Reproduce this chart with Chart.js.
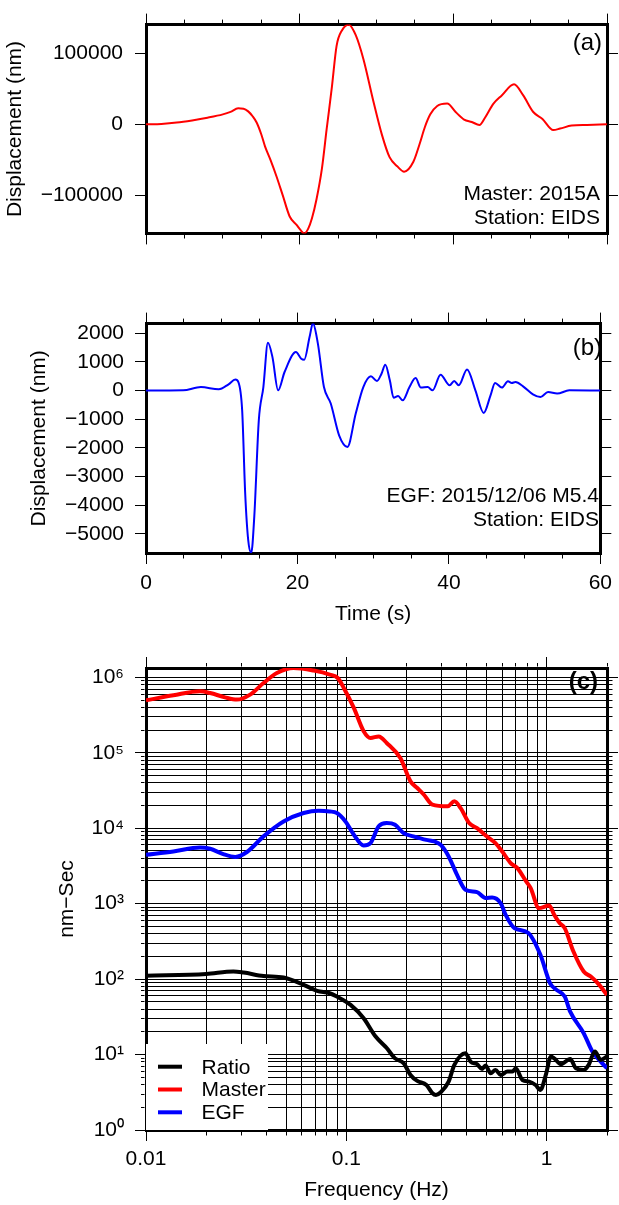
<!DOCTYPE html>
<html>
<head>
<meta charset="utf-8">
<script src="https://cdn.jsdelivr.net/npm/chart.js@4.4.0/dist/chart.umd.min.js"></script>
<style>
  body { margin:0; background:#fff; width:619px; height:1205px; position:relative; overflow:hidden; }
  canvas { position:absolute; left:0; }
</style>
</head>
<body>
<canvas id="chart_a" width="619" height="258" style="top:0px"></canvas>
<canvas id="chart_b" width="619" height="330" style="top:300px"></canvas>
<canvas id="chart_c" width="619" height="565" style="top:640px"></canvas>
<script>
// (a) master waveform, time (s) / displacement (nm)
let timeA = [0, 2, 4, 6, 8, 10, 11, 12, 12.7, 13.3, 13.9, 14.4, 15.0, 15.5, 16.2, 17.0, 17.8, 18.7, 19.6, 20.1,
  20.6, 21.1, 21.6, 22.2, 22.9, 23.5, 24.2, 24.8, 25.5, 26.4, 27.3, 28.3, 29.6, 30.7, 31.7, 32.7, 33.6, 34.8,
  35.6, 36.3, 37.0, 37.9, 39.2, 40.3, 41.4, 42.4, 43.4, 44.1, 45.2, 46.3, 47.9, 49.1, 50.4, 51.6, 53.0, 53.9,
  55.4, 57.4, 60];
let dispA = [0, 600, 2400, 5500, 9300, 14000, 17500, 22500, 22000, 18200, 11000, 2500, -14000, -31400, -50000,
  -73700, -100000, -129600, -141500, -148500, -153500, -147000, -132000, -105000, -62000, -8000, 53000, 110000,
  132000, 140000, 125300, 91500, 32100, -14500, -46200, -59000, -66600, -52600, -28000, -3800, 14000, 25800,
  29200, 17300, 6700, 3300, -900, 8900, 28700, 40600, 56300, 40600, 17300, 7600, -8100, -6000, -1800, -900, 0];

// (b) EGF waveform
let timeB = [0, 4.9, 7.25, 9.6, 10.9, 11.8, 12.2, 12.7, 13.1, 13.5, 13.9, 14.3, 14.9, 15.5, 16.1, 16.7, 17.45,
  18.3, 19.8, 20.5, 20.9, 21.6, 22.05, 22.7, 23.5, 24.4, 25.5, 26.6, 27.7, 28.7, 29.7, 30.5, 31.1, 31.6, 32.2,
  32.7, 33.3, 33.9, 34.8, 35.6, 36.3, 37.2, 37.85, 38.9, 40.1, 40.7, 41.3, 42.4, 43.5, 44.6, 45.5, 46.1, 47.0,
  47.8, 48.3, 48.8, 49.8, 51.1, 52.1, 53.1, 54.3, 55.9, 60];
let dispB = [0, 10, 125, 45, 220, 390, 300, -690, -3590, -5220, -5660, -4400, -1030, 125, 1670, 1170, 10, 650,
  1345, 1115, 1080, 1870, 2355, 1640, 125, -450, -1560, -1965, -800, 125, 500, 335, 590, 905, 360, -245, -190,
  -340, 125, 440, 105, 125, 10, 555, 185, 335, 185, 740, 10, -780, -165, 265, 105, 325, 265, 300, 150, -130,
  -225, -50, -105, 10, 0];

// (c) spectra, frequency (Hz) / nm-Sec
let freqMaster = [0.01, 0.0137, 0.0186, 0.0209, 0.0248, 0.0284, 0.0331, 0.0386, 0.045, 0.0545, 0.0687, 0.0826,
  0.0906, 0.0971, 0.109, 0.122, 0.132, 0.145, 0.159, 0.186, 0.209, 0.226, 0.244, 0.269, 0.32, 0.346, 0.372,
  0.41, 0.449, 0.504, 0.555, 0.6, 0.661, 0.714, 0.79, 0.832, 0.915, 1.03, 1.09, 1.16, 1.23, 1.36, 1.53, 1.66,
  1.83, 2.0];
let specMaster = [4.96e5, 5.78e5, 6.53e5, 6.2e5, 5.43e5, 5.07e5, 5.9e5, 8.4e5, 1.14e6, 1.33e6, 1.23e6, 1.09e6,
  9.8e5, 7.24e5, 3.94e5, 1.93e5, 1.57e5, 1.65e5, 1.35e5, 8.5e4, 4.18e4, 3.41e4, 2.78e4, 2.05e4, 1.95e4, 2.27e4,
  1.85e4, 1.17e4, 1.0e4, 7760, 6350, 4920, 3450, 2960, 1970, 1610, 873, 946, 711, 553, 474, 232, 126, 108, 84,
  61.7];
let freqEgf = [0.01, 0.0137, 0.0186, 0.0209, 0.0243, 0.0279, 0.0319, 0.0386, 0.0486, 0.0612, 0.0726, 0.0826,
  0.0897, 0.099, 0.109, 0.122, 0.132, 0.145, 0.159, 0.175, 0.193, 0.216, 0.251, 0.275, 0.296, 0.324, 0.357,
  0.393, 0.449, 0.495, 0.534, 0.589, 0.624, 0.69, 0.81, 0.93, 1.04, 1.12, 1.23, 1.31, 1.53, 1.69, 1.86, 2.0];
let specEgf = [4450, 4930, 5560, 5350, 4540, 4160, 4840, 7800, 12300, 15900, 17100, 16700, 15900, 12300, 8200,
  5900, 6350, 10600, 11700, 11100, 8600, 7800, 7000, 6700, 6000, 4230, 2410, 1530, 1420, 1190, 1210, 1020, 711,
  474, 408, 210, 88, 72, 58.7, 37, 19.2, 11, 8.06, 6.6];
let freqRatio = [0.01, 0.02, 0.0273, 0.0307, 0.0386, 0.0486, 0.0612, 0.0714, 0.0826, 0.0897, 0.105, 0.122, 0.14,
  0.159, 0.175, 0.193, 0.209, 0.226, 0.251, 0.269, 0.28, 0.296, 0.324, 0.346, 0.393, 0.417, 0.449, 0.476, 0.495,
  0.525, 0.555, 0.589, 0.637, 0.675, 0.70, 0.757, 0.818, 0.88, 0.93, 0.99, 1.05, 1.09, 1.18, 1.31, 1.4, 1.53,
  1.62, 1.74, 1.86, 2.0];
let specRatio = [111, 117, 126, 122, 110, 105, 84, 70, 65, 58.7, 45.5, 30.3, 17.3, 12.2, 8.9, 7.7, 5.37, 4.47,
  3.95, 3.07, 2.92, 3.17, 4.38, 7.3, 10.4, 8.06, 7.45, 6.45, 7.15, 5.66, 6.25, 5.37, 5.94, 5.94, 6.58, 4.6,
  4.38, 3.95, 3.4, 5.37, 9.4, 8.9, 7.45, 8.75, 6.58, 6.25, 7.3, 11, 8.5, 9.4];

// tick values
let timeTicks = [0, 5, 10, 15, 20, 25, 30, 35, 40, 45, 50, 55, 60];
let dispTicksA = [-100000, 0, 100000];
let dispTicksB = [-5000, -4000, -3000, -2000, -1000, 0, 1000, 2000];
let logMult = [1, 2, 3, 4, 5, 6, 7, 8, 9];
let freqTicks = [];
[0.01, 0.1, 1].forEach(d => logMult.forEach(m => { if (m * d <= 2.0001) freqTicks.push(+(m * d).toPrecision(2)); }));
let ampTicks = [];
[1, 10, 100, 1e3, 1e4, 1e5, 1e6].forEach(d => logMult.forEach(m => { if (m * d <= 1.33e6) ampTicks.push(m * d); }));

Chart.defaults.font.family = "'Liberation Sans', Arial, Helvetica, sans-serif";
Chart.defaults.font.size = 21;
Chart.defaults.color = '#000';

const TICK_LEN = 11;
const MINOR_LEN = 3.5;
const MINUS = '\u2212';

function toXY(xs, ys) {
    return xs.map((x, i) => ({x: x, y: ys[i]}));
}
function isMajorLog(v) {
    let e = Math.log10(v);
    return Math.abs(e - Math.round(e)) < 1e-6;
}
function supNum(n) {
    const sup = ['\u2070', '\u00b9', '\u00b2', '\u00b3', '\u2074', '\u2075', '\u2076', '\u2077', '\u2078', '\u2079'];
    return String(n).split('').map(c => sup[+c]).join('');
}
function fmtNum(v) {
    return v < 0 ? MINUS + Math.abs(v) : String(v);
}
// minor ticks drawn shorter with a dash pattern; left/top ticks are stroked from the outer end
function tickDash(major, fromOuter) {
    if (major) return [];
    return fromOuter ? [0, TICK_LEN - 1.5 - MINOR_LEN, MINOR_LEN, 50] : [MINOR_LEN, 50];
}
function frameAxis(position, type, min, max, tickVals, isMajor, size) {
    let fromOuter = position === 'left' || position === 'top';
    return {
        type: type,
        position: position,
        min: min,
        max: max,
        afterBuildTicks: s => { s.ticks = tickVals.map(v => ({value: v})); },
        afterFit: s => { if (s.isHorizontal()) s.height = size; else s.width = size; },
        border: {display: true, width: 3, color: '#000'},
        grid: {
            drawOnChartArea: false,
            lineWidth: 3,
            color: '#000',
            tickLength: TICK_LEN,
            tickWidth: 1,
            tickColor: '#000',
            tickBorderDash: c => c.tick ? tickDash(isMajor(c.tick.value), fromOuter) : []
        },
        ticks: {display: false, autoSkip: false, maxRotation: 0}
    };
}
function notesPlugin(notes) {
    return {
        id: 'notes',
        afterDatasetsDraw(chart) {
            let ctx = chart.ctx;
            ctx.save();
            ctx.fillStyle = '#000';
            ctx.textAlign = 'right';
            ctx.textBaseline = 'alphabetic';
            notes.forEach(n => {
                ctx.font = n.font;
                ctx.fillText(n.text, n.x, n.y);
            });
            ctx.restore();
        }
    };
}
const FONT = "'Liberation Sans', Arial, sans-serif";
const every20 = v => v % 20 === 0;
const always = () => true;

// ---------- (a) ----------
let yA = frameAxis('left', 'linear', -153400, 140200, dispTicksA, always, 146);
yA.ticks = {display: true, autoSkip: false, padding: 12, callback: v => fmtNum(v)};
yA.title = {display: true, text: 'Displacement (nm)', padding: {top: 2.5, bottom: 0}};

new Chart(document.getElementById('chart_a'), {
    type: 'line',
    data: {
        datasets: [{
            label: 'Master',
            data: toXY(timeA, dispA),
            borderColor: 'rgb(255,0,0)',
            borderWidth: 2,
            pointRadius: 0,
            cubicInterpolationMode: 'monotone',
            xAxisID: 'x',
            yAxisID: 'y'
        }]
    },
    options: {
        responsive: false,
        animation: false,
        layout: {padding: 0, autoPadding: false},
        plugins: {legend: {display: false}, tooltip: {enabled: false}},
        scales: {
            x: frameAxis('bottom', 'linear', 0, 60, timeTicks, every20, 12),
            x2: frameAxis('top', 'linear', 0, 60, timeTicks, every20, 15),
            y: yA,
            y2: frameAxis('right', 'linear', -153400, 140200, dispTicksA, always, 12)
        }
    },
    plugins: [notesPlugin([
        {text: '(a)', font: '24px ' + FONT, x: 602, y: 50},
        {text: 'Master: 2015A', font: '21px ' + FONT, x: 600, y: 200},
        {text: 'Station: EIDS', font: '21px ' + FONT, x: 600, y: 224}
    ])]
});

// ---------- (b) ----------
let xB = frameAxis('bottom', 'linear', 0, 60, timeTicks, every20, 77);
xB.ticks = {display: true, autoSkip: false, maxRotation: 0, padding: 7, callback: v => v % 20 === 0 ? String(v) : ''};
xB.title = {display: true, text: 'Time (s)', padding: {top: 0, bottom: 3.4}};
let yB = frameAxis('left', 'linear', -5670, 2340, dispTicksB, always, 146);
yB.ticks = {display: true, autoSkip: false, padding: 11, callback: v => fmtNum(v)};
yB.title = {display: true, text: 'Displacement (nm)', padding: {top: 27, bottom: 0}};

new Chart(document.getElementById('chart_b'), {
    type: 'line',
    data: {
        datasets: [{
            label: 'EGF',
            data: toXY(timeB, dispB),
            borderColor: 'rgb(0,0,255)',
            borderWidth: 2,
            pointRadius: 0,
            cubicInterpolationMode: 'monotone',
            xAxisID: 'x',
            yAxisID: 'y'
        }]
    },
    options: {
        responsive: false,
        animation: false,
        layout: {padding: 0, autoPadding: false},
        plugins: {legend: {display: false}, tooltip: {enabled: false}},
        scales: {
            x: xB,
            x2: frameAxis('top', 'linear', 0, 60, timeTicks, every20, 23),
            y: yB,
            y2: frameAxis('right', 'linear', -5670, 2340, dispTicksB, always, 12)
        }
    },
    plugins: [notesPlugin([
        {text: '(b)', font: '24px ' + FONT, x: 602, y: 55},
        {text: 'EGF: 2015/12/06 M5.4', font: '21px ' + FONT, x: 599, y: 202},
        {text: 'Station: EIDS', font: '21px ' + FONT, x: 599, y: 226}
    ])]
});

// ---------- (c) ----------
let xC = frameAxis('bottom', 'logarithmic', 0.01, 2, freqTicks, isMajorLog, 75);
xC.grid.drawOnChartArea = true;
xC.grid.lineWidth = 1;
xC.ticks = {display: true, autoSkip: false, maxRotation: 0, padding: 6,
    callback: v => isMajorLog(v) ? String(+v.toPrecision(1)) : ''};
xC.title = {display: true, text: 'Frequency (Hz)', padding: {top: 0, bottom: 2.4}};
let yC = frameAxis('left', 'logarithmic', 1, 1.33e6, ampTicks, isMajorLog, 146);
yC.grid.drawOnChartArea = true;
yC.grid.lineWidth = 1;
yC.ticks = {display: true, autoSkip: false, padding: 11,
    callback: v => isMajorLog(v) ? '10' + supNum(Math.round(Math.log10(v))) : ''};
yC.title = {display: true, text: 'nm' + MINUS + 'Sec', padding: {top: 55, bottom: 0}};

const legendBox = {
    id: 'legendBox',
    afterDatasetsDraw(chart) {
        let ctx = chart.ctx;
        let area = chart.chartArea;
        let x0 = area.left, y1 = area.bottom;
        ctx.save();
        ctx.fillStyle = '#fff';
        ctx.fillRect(x0, y1 - 86, 122, 86);
        chart.data.datasets.forEach((ds, i) => {
            let y = y1 - 63.3 + i * 22.8;
            ctx.strokeStyle = ds.borderColor;
            ctx.lineWidth = 4;
            ctx.beginPath();
            ctx.moveTo(x0 + 12, y);
            ctx.lineTo(x0 + 36, y);
            ctx.stroke();
            ctx.fillStyle = '#000';
            ctx.font = '21px ' + FONT;
            ctx.textAlign = 'left';
            ctx.textBaseline = 'alphabetic';
            ctx.fillText(ds.label, x0 + 55.5, y + 6.8);
        });
        ctx.restore();
    }
};

new Chart(document.getElementById('chart_c'), {
    type: 'line',
    data: {
        datasets: [{
            label: 'Ratio',
            data: toXY(freqRatio, specRatio),
            borderColor: 'rgb(0,0,0)',
            borderWidth: 4,
            pointRadius: 0,
            cubicInterpolationMode: 'monotone',
            xAxisID: 'x',
            yAxisID: 'y'
        }, {
            label: 'Master',
            data: toXY(freqMaster, specMaster),
            borderColor: 'rgb(255,0,0)',
            borderWidth: 4,
            pointRadius: 0,
            cubicInterpolationMode: 'monotone',
            xAxisID: 'x',
            yAxisID: 'y'
        }, {
            label: 'EGF',
            data: toXY(freqEgf, specEgf),
            borderColor: 'rgb(0,0,255)',
            borderWidth: 4,
            pointRadius: 0,
            cubicInterpolationMode: 'monotone',
            xAxisID: 'x',
            yAxisID: 'y'
        }]
    },
    options: {
        responsive: false,
        animation: false,
        layout: {padding: 0, autoPadding: false},
        plugins: {legend: {display: false}, tooltip: {enabled: false}},
        scales: {
            x: xC,
            x2: frameAxis('top', 'logarithmic', 0.01, 2, freqTicks, isMajorLog, 28),
            y: yC,
            y2: frameAxis('right', 'logarithmic', 1, 1.33e6, ampTicks, isMajorLog, 12)
        }
    },
    plugins: [legendBox, notesPlugin([
        {text: '(c)', font: 'bold 24px ' + FONT, x: 598, y: 49}
    ])]
});
</script>
</body>
</html>
